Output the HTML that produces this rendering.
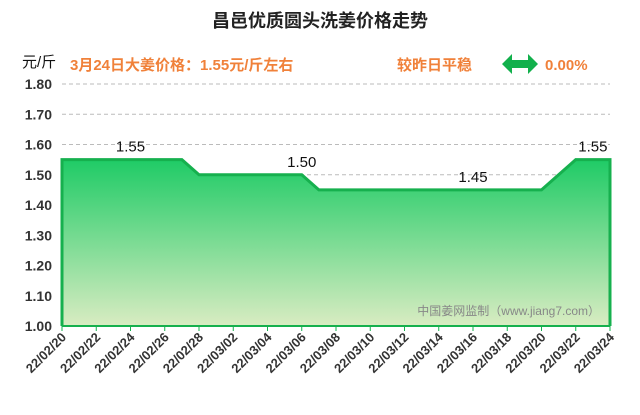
<!DOCTYPE html>
<html><head><meta charset="utf-8"><style>
body{margin:0;background:#fff;}
svg text{font-family:"Liberation Sans","Noto Sans CJK SC",sans-serif;}
</style></head><body>
<svg id="c" width="640" height="410" xmlns="http://www.w3.org/2000/svg">
<defs><linearGradient id="g" x1="0" y1="0" x2="0" y2="1"><stop offset="0" stop-color="#1fcb66"/><stop offset="1" stop-color="#d9ecc2"/></linearGradient></defs>
<text x="320" y="27" text-anchor="middle" font-size="18" font-weight="bold" fill="#222">昌邑优质圆头洗姜价格走势</text>
<text x="22" y="67" font-size="15" fill="#111">元/斤</text>
<text x="70" y="70" font-size="15" font-weight="bold" fill="#f0813a">3月24日大姜价格：1.55元/斤左右</text>
<text x="397" y="70" font-size="15" font-weight="bold" fill="#f0813a">较昨日平稳</text>
<path d="M502 64 l10 -10 v6 h16 v-6 l10 10 l-10 10 v-6 h-16 v6 z" fill="#12b04c"/>
<text x="545" y="70" font-size="15" font-weight="bold" fill="#f0813a">0.00%</text>
<g id="grid"></g><g id="plot"></g><g id="axes"></g>
<text x="600" y="315" text-anchor="end" font-size="12" fill="#888">中国姜网监制（www.jiang7.com）</text>
</svg>
<script>
const dates=["22/02/20","22/02/21","22/02/22","22/02/23","22/02/24","22/02/25","22/02/26","22/02/27","22/02/28","22/03/01","22/03/02","22/03/03","22/03/04","22/03/05","22/03/06","22/03/07","22/03/08","22/03/09","22/03/10","22/03/11","22/03/12","22/03/13","22/03/14","22/03/15","22/03/16","22/03/17","22/03/18","22/03/19","22/03/20","22/03/21","22/03/22","22/03/23","22/03/24"];
const prices=[1.55,1.55,1.55,1.55,1.55,1.55,1.55,1.55,1.50,1.50,1.50,1.50,1.50,1.50,1.50,1.45,1.45,1.45,1.45,1.45,1.45,1.45,1.45,1.45,1.45,1.45,1.45,1.45,1.45,1.50,1.55,1.55,1.55];
const yTicks=[1.00,1.10,1.20,1.30,1.40,1.50,1.60,1.70,1.80];
const annot=[{i:4,t:"1.55"},{i:14,t:"1.50"},{i:24,t:"1.45"},{i:31,t:"1.55"}];
const L=62,R=610,T=84,B=326,NS="http://www.w3.org/2000/svg";
const x=i=>L+(R-L)*i/(dates.length-1);
const y=v=>B-(v-1.0)/(0.8)*(B-T);
function mk(t,a,p){const e=document.createElementNS(NS,t);for(const k in a)e.setAttribute(k,a[k]);p.appendChild(e);return e;}
const grid=document.getElementById('grid'),plot=document.getElementById('plot'),axes=document.getElementById('axes');
yTicks.forEach(v=>{
 if(v>1.0){const l=mk('line',{x1:L,x2:R,y1:y(v),y2:y(v),stroke:'#bbb','stroke-dasharray':'4,3'},grid);
 
 }
 const t=mk('text',{x:52,y:y(v)+5,'text-anchor':'end','font-size':'14','font-weight':'bold',fill:'#333'},axes);t.textContent=v.toFixed(2);
 
 
});
let d='M'+x(0)+' '+B;prices.forEach((v,i)=>d+=' L'+x(i)+' '+y(v));d+=' L'+x(prices.length-1)+' '+B+' Z';
const area=mk('path',{d:d,fill:'url(#g)'},plot);


let ld='M'+x(0)+' '+B;prices.forEach((v,i)=>ld+=' L'+x(i)+' '+y(v));ld+=' L'+x(prices.length-1)+' '+B;
const line=mk('path',{d:ld,fill:'none',stroke:'#16b04e','stroke-width':3},plot);


annot.forEach(a=>{const t=mk('text',{x:x(a.i),y:y(prices[a.i])-8,'text-anchor':'middle','font-size':'15',fill:'#111'},plot);t.textContent=a.t;
 
 });
const ax=mk('line',{x1:L,x2:R,y1:B,y2:B,stroke:'#16b04e','stroke-width':2},axes);


dates.forEach((s,i)=>{if(i%2)return;
 const tk=mk('line',{x1:x(i),x2:x(i),y1:B,y2:B+5,stroke:'#16b04e','stroke-width':1},axes);
 
 
 const t=mk('text',{x:x(i)+5,y:B+12,'text-anchor':'end','font-size':'13','font-weight':'bold',fill:'#333',transform:`rotate(-45 ${x(i)+5} ${B+12})`},axes);t.textContent=s;
 
 });
</script>
</body></html>
